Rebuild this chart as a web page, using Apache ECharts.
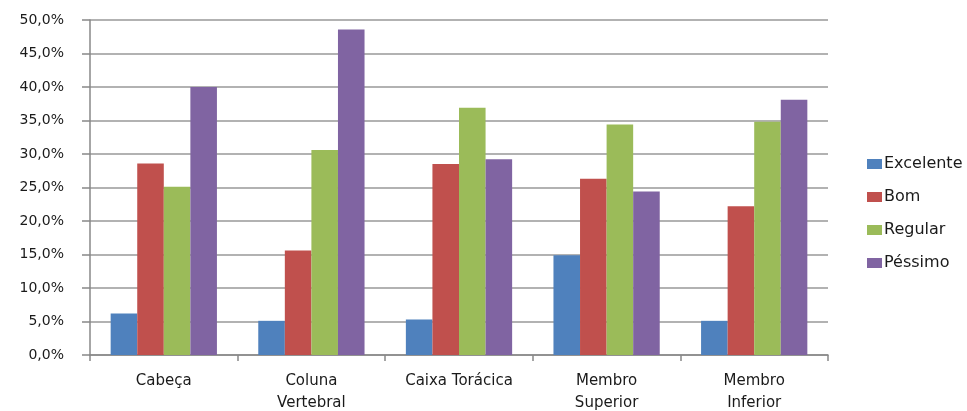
<!DOCTYPE html>
<html>
<head>
<meta charset="utf-8">
<script src="https://cdn.jsdelivr.net/npm/echarts@6/dist/echarts.min.js"></script>
<style>
  html, body { margin: 0; padding: 0; background: #fff; }
  #chart { width: 967px; height: 411px; }
</style>
</head>
<body>
<div id="chart"></div>
<script>
var categories = ["Cabeça", "Coluna\nVertebral", "Caixa Torácica", "Membro\nSuperior", "Membro\nInferior"];
var excelente = [6.2, 5.1, 5.3, 14.9, 5.1];
var bom = [28.6, 15.6, 28.5, 26.3, 22.2];
var regular = [25.1, 30.6, 36.9, 34.4, 34.8];
var pessimo = [40.0, 48.6, 29.2, 24.4, 38.1];
var seriesNames = ["Excelente", "Bom", "Regular", "Péssimo"];

var colors = ["#4F81BD", "#C0504D", "#9BBB59", "#8064A2"];
var font = "DejaVu Sans";

function pct(v) {
  return v.toFixed(1).replace(".", ",") + "%";
}

var dom = echarts.init(document.getElementById("chart"));
var option = {
  color: colors,
  animation: false,
  grid: { left: 90, right: 139, top: 20, bottom: 56, containLabel: false, outerBoundsMode: "none" },
  legend: {
    orient: "vertical",
    left: 862,
    top: 151,
    itemWidth: 15,
    itemHeight: 10,
    itemGap: 17,
    icon: "rect",
    data: seriesNames,
    textStyle: { fontFamily: font, fontSize: 16, color: "#1a1a1a", padding: [0, 0, 0, -3] }
  },
  xAxis: {
    type: "category",
    data: categories,
    axisLine: { lineStyle: { color: "#888", width: 1.5 } },
    axisTick: { show: true, alignWithLabel: false, length: 6, lineStyle: { color: "#888", width: 1.5 } },
    axisLabel: { fontFamily: font, fontSize: 15, color: "#1a1a1a", margin: 15, lineHeight: 22 }
  },
  yAxis: {
    type: "value",
    min: 0,
    max: 50,
    interval: 5,
    axisLine: { show: true, lineStyle: { color: "#888", width: 1.5 } },
    axisTick: { show: true, inside: false, length: 8, lineStyle: { color: "#888", width: 1.5 } },
    splitLine: { lineStyle: { color: "#999", width: 1.5 } },
    axisLabel: { fontFamily: font, fontSize: 14, color: "#1a1a1a", margin: 26, formatter: pct }
  },
  series: [
    { name: seriesNames[0], type: "bar", data: excelente, barGap: "0%", barCategoryGap: "28%" },
    { name: seriesNames[1], type: "bar", data: bom, barGap: "0%", barCategoryGap: "28%" },
    { name: seriesNames[2], type: "bar", data: regular, barGap: "0%", barCategoryGap: "28%" },
    { name: seriesNames[3], type: "bar", data: pessimo, barGap: "0%", barCategoryGap: "28%" }
  ]
};
dom.setOption(option, true);
</script>
</body>
</html>
